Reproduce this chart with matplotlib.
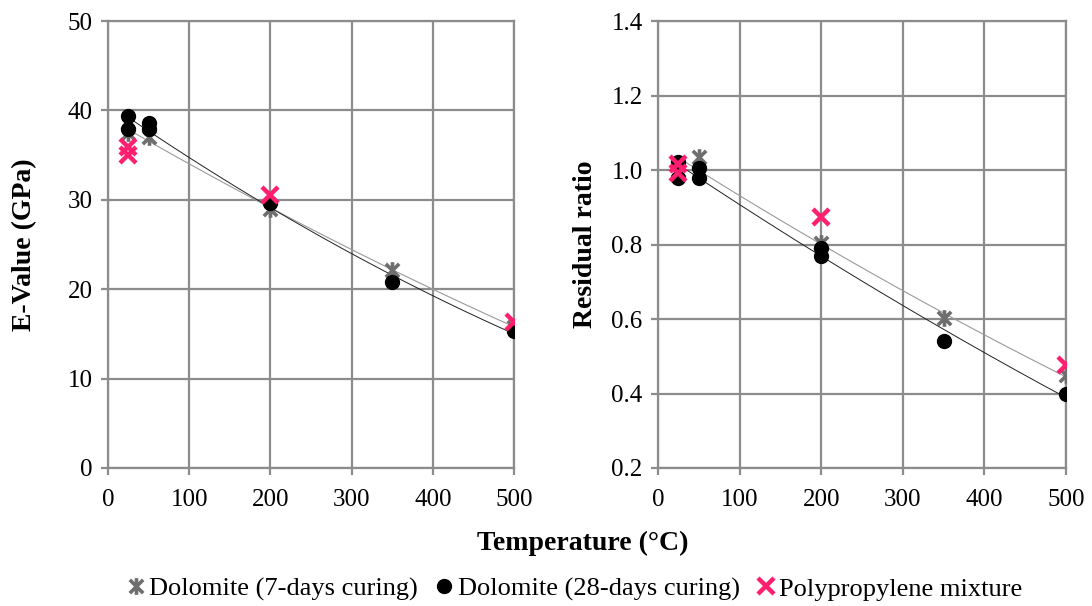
import numpy as np
import matplotlib
matplotlib.use("Agg")
import matplotlib.pyplot as plt
from matplotlib.path import Path
from matplotlib.lines import Line2D
from matplotlib.ticker import FormatStrFormatter

plt.rcParams['font.family'] = ['Liberation Serif', 'DejaVu Serif']

# ---- data -------------------------------------------------------------
# Elastic modulus (GPa)
t_7d = [25, 50, 200, 350, 500]
e_7d = [37.5, 37.0, 29.0, 22.2, 15.8]
t_28d = [25, 25, 50, 50, 200, 350, 500]
e_28d = [39.4, 37.9, 38.6, 37.9, 29.6, 20.8, 15.3]
t_pp = [25, 25, 200, 500]
e_pp = [35.9, 35.0, 30.5, 16.3]

# Residual ratio
r_t_7d = [25, 50, 200, 350, 500]
r_7d = [1.00, 1.035, 0.805, 0.603, 0.45]
r_t_28d = [25, 25, 50, 50, 200, 200, 350, 500]
r_28d = [1.022, 0.978, 1.005, 0.978, 0.79, 0.77, 0.542, 0.40]
r_t_pp = [25, 25, 200, 500]
r_pp = [1.016, 0.991, 0.873, 0.477]

labels = ["Dolomite (7-days curing)", "Dolomite (28-days curing)",
          "Polypropylene mixture"]

# ---- styling ----------------------------------------------------------
GRID = "#8c8c8c"
GRAY = "#6e6e6e"
PINK = "#ff1f6e"
TICK_FS = 18
LABEL_FS = 20

asterisk = Path([(-1, -1), (1, 1), (-1, 1), (1, -1), (0, -1.25), (0, 1.25)],
                [Path.MOVETO, Path.LINETO, Path.MOVETO, Path.LINETO,
                 Path.MOVETO, Path.LINETO])

STAR = dict(ls='none', marker=asterisk, ms=12, mew=2.6, color=GRAY)
DOT = dict(ls='none', marker='o', ms=10, color='black')
CROSS = dict(ls='none', marker='x', ms=12, mew=3.2, color=PINK)

fig = plt.figure(figsize=(10.92, 6.06), dpi=100)
W, H = 1092, 606
ax1 = fig.add_axes([108 / W, 1 - 468 / H, 406 / W, 447 / H])
ax2 = fig.add_axes([658 / W, 1 - 468 / H, 408 / W, 447 / H])


def trend(ax, x, y, color, lw):
    c = np.polyfit(x, y, 2)
    xs = np.linspace(min(x), max(x), 200)
    ax.plot(xs, np.polyval(c, xs), color=color, lw=lw, zorder=2)


def style(ax, ylim, yticks):
    ax.set_xlim(0, 500)
    ax.set_ylim(*ylim)
    ax.set_xticks(range(0, 501, 100))
    ax.set_yticks(yticks)
    ax.grid(True, color=GRID, lw=1.6)
    ax.set_axisbelow(True)
    for s in ax.spines.values():
        s.set_color(GRID)
        s.set_linewidth(1.6)
    ax.tick_params(length=5, width=1.6, color=GRID, labelsize=TICK_FS,
                   direction='out', pad=6)
    ax.tick_params(axis='x', pad=10)
    for lab in ax.get_xticklabels() + ax.get_yticklabels():
        lab.set_fontfamily(['Liberation Serif', 'DejaVu Serif'])


def draw(ax, x7, y7, x28, y28, xp, yp):
    trend(ax, x7, y7, "#9a9a9a", 0.8)
    trend(ax, x28, y28, "#202020", 0.7)
    ax.plot(x7, y7, zorder=3, **STAR)
    ax.plot(x28, y28, zorder=4, **DOT)
    ax.plot(xp, yp, zorder=5, **CROSS)


draw(ax1, t_7d, e_7d, t_28d, e_28d, t_pp, e_pp)
style(ax1, (0, 50), range(0, 51, 10))
ax1.set_ylabel("E-Value (GPa)", fontsize=LABEL_FS, fontweight='bold',
               labelpad=22)

draw(ax2, r_t_7d, r_7d, r_t_28d, r_28d, r_t_pp, r_pp)
ax2.yaxis.set_major_formatter(FormatStrFormatter('%.1f'))
style(ax2, (0.2, 1.4), np.arange(0.2, 1.41, 0.2))
ax2.set_ylabel("Residual ratio", fontsize=LABEL_FS, fontweight='bold',
               labelpad=10)

fig.text(583 / W, 1 - 543 / H, "Temperature (°C)", fontsize=LABEL_FS,
         fontweight='bold', ha='center', va='center')

handles = [Line2D([], [], **STAR), Line2D([], [], **DOT),
           Line2D([], [], **CROSS)]
fig.legend(handles, labels, loc='center', ncol=3,
           bbox_to_anchor=(574 / W, 1 - 589 / H), frameon=False,
           fontsize=19, handlelength=0.8, handletextpad=0.1,
           columnspacing=0.6)

fig.savefig("out.png", dpi=100)
